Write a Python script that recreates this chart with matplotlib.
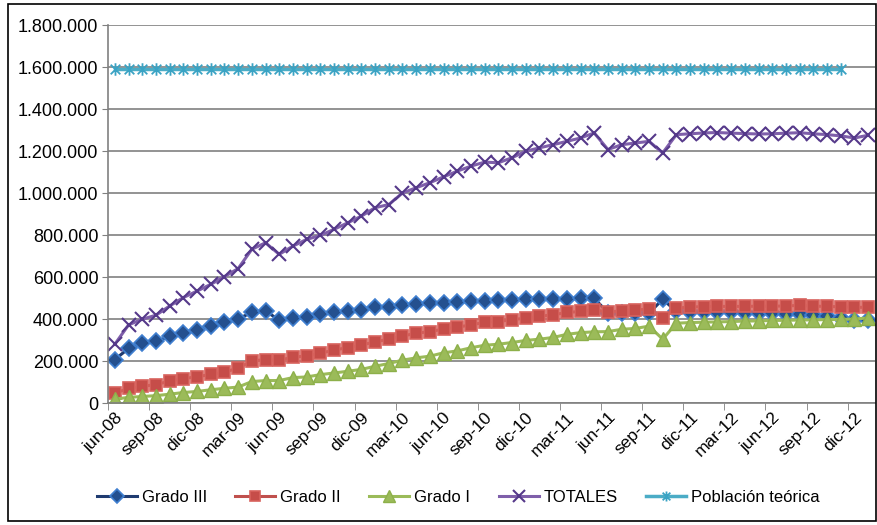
import matplotlib
matplotlib.use("Agg")
import matplotlib.pyplot as plt
import matplotlib.patches as mpatches
from matplotlib.path import Path
from matplotlib.ticker import FuncFormatter, FixedLocator
import numpy as np

plt.rcParams['font.family'] = ['Liberation Sans', 'DejaVu Sans']

# Monthly series, jun-08 .. ene-13 (thousands of people)
grado_iii = [207, 260, 286, 294, 317, 334, 350, 369, 384, 401,
             431, 439, 394, 405, 408, 423, 431, 439, 444, 455,
             457, 468, 471, 475, 478, 481, 485, 488, 490, 492,
             493, 495, 496, 497, 498, 498, 430, 428, 427, 428,
             494, 436, 433, 432, 432, 431, 430, 429, 428, 426,
             424, 420, 414, 404, 396, 394]
grado_ii = [46, 70, 79, 88, 104, 116, 125, 136, 147, 166,
            200, 207, 204, 218, 224, 237, 252, 264, 276, 291,
            304, 319, 332, 340, 352, 361, 372, 384, 388, 397,
            404, 413, 420, 431, 436, 445, 432, 440, 444, 446,
            403, 452, 457, 459, 460, 460, 460, 461, 461, 462,
            465, 461, 460, 458, 456, 455]
grado_i = [18, 27, 31, 35, 42, 50, 55, 63, 70, 76,
           102, 107, 107, 121, 124, 135, 143, 151, 160, 175,
           188, 204, 215, 223, 239, 248, 263, 275, 280, 288,
           298, 304, 312, 327, 335, 339, 340, 351, 355, 366,
           304, 380, 383, 385, 386, 388, 390, 391, 393, 394,
           395, 396, 397, 398, 400, 405]
totales = [280, 372, 399, 418, 462, 502, 533, 565, 602, 640,
           732, 763, 708, 747, 779, 798, 827, 858, 890, 930,
           945, 1000, 1025, 1049, 1077, 1104, 1128, 1147, 1144, 1168,
           1199, 1215, 1230, 1246, 1262, 1286, 1207, 1230, 1238, 1246,
           1191, 1278, 1282, 1286, 1288, 1285, 1283, 1281, 1282, 1285,
           1287, 1282, 1278, 1272, 1262, 1275]
poblacion_teorica = [1590, 1590, 1590, 1590, 1590, 1590, 1590, 1590, 1590, 1590,
                     1590, 1590, 1590, 1590, 1590, 1590, 1590, 1590, 1590, 1590,
                     1590, 1590, 1590, 1590, 1590, 1590, 1590, 1590, 1590, 1590,
                     1590, 1590, 1590, 1590, 1590, 1590, 1590, 1590, 1590, 1590,
                     1590, 1590, 1590, 1590, 1590, 1590, 1590, 1590, 1590, 1590,
                     1590, 1590, 1590, 1590]

tick_labels = ['jun-08', 'sep-08', 'dic-08', 'mar-09', 'jun-09', 'sep-09', 'dic-09',
               'mar-10', 'jun-10', 'sep-10', 'dic-10', 'mar-11', 'jun-11', 'sep-11',
               'dic-11', 'mar-12', 'jun-12', 'sep-12', 'dic-12']

# Excel-style asterisk: an x with a vertical bar through it
asterisk = Path([(-1, -1), (1, 1), (-1, 1), (1, -1), (0, -1.3), (0, 1.3)],
                [Path.MOVETO, Path.LINETO, Path.MOVETO, Path.LINETO, Path.MOVETO, Path.LINETO])

fig = plt.figure(figsize=(8.78, 5.25), dpi=100)
ax = fig.add_axes([108 / 878, 1 - 403 / 525, 767 / 878, 378 / 525])

def k(vals):
    return np.array(vals) * 1000

x = np.arange(len(grado_iii))
xp = np.arange(len(poblacion_teorica))

ax.plot(x, k(grado_iii), color='#1f3b70', lw=2.2, marker='D', ms=8.5,
        mfc='#24508f', mec='#3f7fd0', mew=1.2, label='Grado III')
ax.plot(x, k(grado_ii), color='#c0504d', lw=2.2, marker='s', ms=8.5,
        mfc='#c64d49', mec='#d8625d', mew=1.2, label='Grado II')
ax.plot(x, k(grado_i), color='#9bbb59', lw=2.2, marker='^', ms=10,
        mfc='#9bbb59', mec='#8db04a', mew=1.0, label='Grado I')
ax.plot(x, k(totales), color='#7f5faa', lw=2.2, marker='x', ms=10,
        mec='#55398a', mew=1.5, label='TOTALES')
ax.plot(xp, k(poblacion_teorica), color='#4bacc6', lw=2.5, marker=asterisk, ms=9,
        mec='#3aa3c4', mew=1.3, label='Población teórica')

ax.set_xlim(-0.5, len(grado_iii) - 0.5)
ax.set_ylim(0, 1_800_000)
ax.set_yticks(np.arange(0, 1_800_001, 200_000))
ax.yaxis.set_major_formatter(FuncFormatter(lambda v, p: f"{v:,.0f}".replace(',', '.')))
ax.yaxis.grid(True, color='#8a8a8a', lw=1.3)
ax.set_axisbelow(True)

ax.set_xticks(np.arange(0, len(grado_iii), 3))
ax.set_xticklabels(tick_labels, rotation=45, ha='right', va='top',
                   rotation_mode='anchor', fontsize=12.5)
ax.tick_params(axis='x', length=0, pad=5)
ax.xaxis.set_minor_locator(FixedLocator(np.arange(-0.5, len(grado_iii), 3)))
ax.tick_params(axis='x', which='minor', length=5, color='#808080')
ax.tick_params(axis='y', length=4, color='#808080', labelsize=13, pad=3)

for s in ['top', 'right']:
    ax.spines[s].set_visible(False)
ax.spines['left'].set_color('#808080')
ax.spines['bottom'].set_color('#808080')
ax.spines['left'].set_linewidth(1.2)
ax.spines['bottom'].set_linewidth(1.2)

fig.legend(loc='center', bbox_to_anchor=(0.522, 1 - 497 / 525), ncol=5, frameon=False,
           fontsize=12, handlelength=2.4, columnspacing=1.7, handletextpad=0.3,
           markerscale=0.8)

# outer frame around the chart
fig.patches.append(mpatches.Rectangle((8 / 878, 4 / 525), 868 / 878, 517 / 525,
                                      transform=fig.transFigure, fill=False,
                                      edgecolor='black', lw=1.2))

fig.savefig('out.png', dpi=100)
